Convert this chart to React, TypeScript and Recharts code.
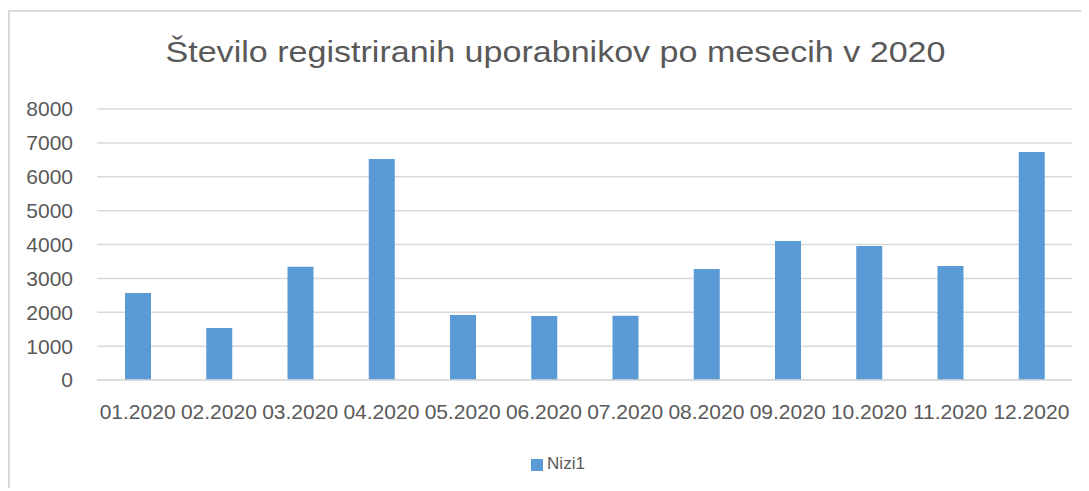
import React from 'react';
import { BarChart, Bar, XAxis, YAxis, CartesianGrid, Legend } from 'recharts';

const months = ['01.2020', '02.2020', '03.2020', '04.2020', '05.2020', '06.2020', '07.2020', '08.2020', '09.2020', '10.2020', '11.2020', '12.2020'];
const values = [2570, 1535, 3345, 6525, 1920, 1890, 1900, 3275, 4105, 3955, 3365, 6730];
const yTicks = [0, 1000, 2000, 3000, 4000, 5000, 6000, 7000, 8000];
const title = 'Število registriranih uporabnikov po mesecih v 2020';
const seriesName = 'Nizi1';

const data = months.map((m, i) => ({ month: m, value: values[i] }));

const FONT = '"Liberation Sans", Arial, sans-serif';
const TEXT = '#595959';

export default function App() {
  return (
    <div style={{ position: 'relative', width: 1081, height: 480, fontFamily: FONT }}>
      <div
        style={{
          position: 'absolute',
          top: 2,
          left: 0,
          width: 1081,
          height: 478,
          borderTop: '2px solid #d9d9d9',
          borderLeft: '2px solid #d9d9d9',
          boxSizing: 'border-box',
        }}
      />
      <svg style={{ position: 'absolute', top: 0, left: 0 }} width={1081} height={80}>
        <text
          x={547.5}
          y={54}
          textAnchor="middle"
          fontSize={29}
          fill={TEXT}
          fontFamily={FONT}
          textLength={780}
          lengthAdjust="spacingAndGlyphs"
        >
          {title}
        </text>
      </svg>
      <div style={{ position: 'absolute', top: 0, left: 0 }}>
        <BarChart
          width={1081}
          height={480}
          data={data}
          margin={{ top: 101, right: 17, bottom: 78, left: 0 }}
        >
          <CartesianGrid vertical={false} stroke="#d9d9d9" strokeWidth={1.5} />
          <XAxis
            dataKey="month"
            interval={0}
            tickLine={false}
            axisLine={{ stroke: '#d9d9d9', strokeWidth: 1.5 }}
            tickSize={0}
            tickMargin={24}
            tick={{ fill: TEXT, fontSize: 21, fontFamily: FONT }}
          />
          <YAxis
            domain={[0, 8000]}
            ticks={yTicks}
            width={89}
            axisLine={false}
            tickLine={false}
            tickSize={0}
            tickMargin={24}
            tick={{ fill: TEXT, fontSize: 21, fontFamily: FONT }}
          />
          <Legend
            layout="horizontal"
            verticalAlign="middle"
            align="center"
            iconType="square"
            iconSize={12}
            wrapperStyle={{ top: 446, left: 495, width: 120, height: 30, fontSize: 17, fontFamily: FONT }}
            formatter={(v: string) => <span style={{ color: TEXT }}>{v}</span>}
          />
          <Bar
            dataKey="value"
            name={seriesName}
            fill="#5B9BD5"
            barSize={26}
            isAnimationActive={false}
          />
        </BarChart>
      </div>
    </div>
  );
}
